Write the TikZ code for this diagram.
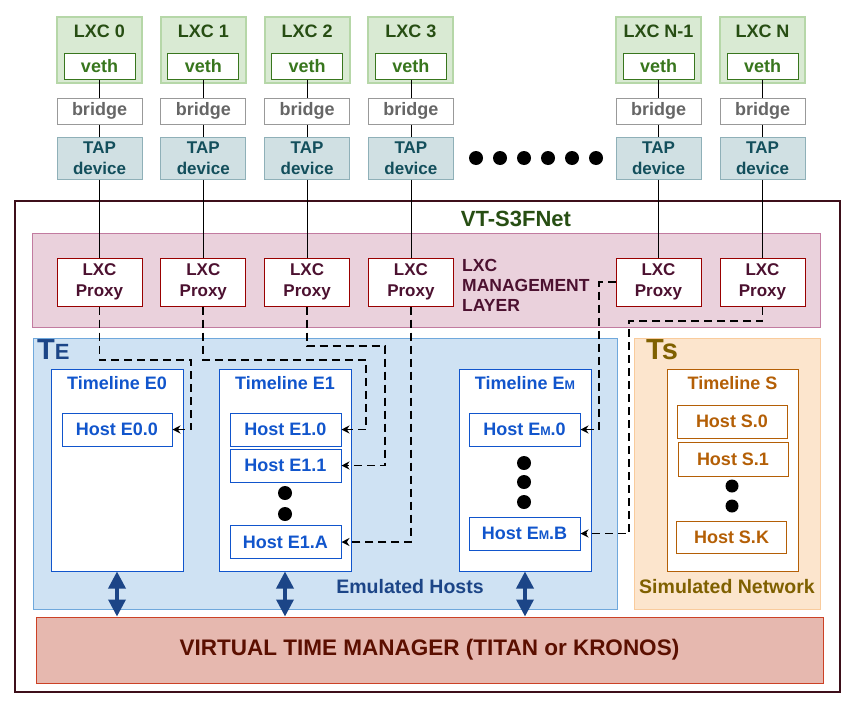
\documentclass[tikz,border=0pt]{standalone}
\usepackage{fontspec}
\setmainfont{Liberation Sans}
\usetikzlibrary{arrows.meta}
\usetikzlibrary{calc}
\definecolor{lxcfill}{HTML}{D9EAD3}
\definecolor{lxcline}{HTML}{B6D7A8}
\definecolor{lxcdark}{HTML}{274E13}
\definecolor{vethgreen}{HTML}{38761D}
\definecolor{bridgeline}{HTML}{999999}
\definecolor{bridgetext}{HTML}{666666}
\definecolor{tapfill}{HTML}{D0E0E3}
\definecolor{tapline}{HTML}{8FB0B8}
\definecolor{taptext}{HTML}{134F5C}
\definecolor{outerline}{HTML}{3D0F1A}
\definecolor{mgmtfill}{HTML}{EAD1DC}
\definecolor{mgmtline}{HTML}{C27BA0}
\definecolor{proxyline}{HTML}{990000}
\definecolor{proxytext}{HTML}{4C1130}
\definecolor{tefill}{HTML}{CFE2F3}
\definecolor{teline}{HTML}{6FA8DC}
\definecolor{hostblue}{HTML}{1155CC}
\definecolor{darkblue}{HTML}{1C4587}
\definecolor{tsfill}{HTML}{FCE5CD}
\definecolor{tsline}{HTML}{F9CB9C}
\definecolor{simbrown}{HTML}{B45F06}
\definecolor{olive}{HTML}{7F6000}
\definecolor{vtmfill}{HTML}{E6B8AF}
\definecolor{vtmline}{HTML}{CC4125}
\definecolor{vtmtext}{HTML}{5B0F00}

\tikzset{
	boxbase/.style={rectangle, inner sep=0pt, align=center,
		font=\fontsize{18}{21}\selectfont\bfseries},
	lxcbox/.style={boxbase, fill=lxcfill, draw=lxcline, line width=2pt,
		minimum width=85, minimum height=66},
	lxctext/.style={boxbase, text=lxcdark},
	vethbox/.style={boxbase, fill=white, draw=vethgreen, line width=1pt, text=vethgreen,
		minimum width=71, minimum height=26},
	bridgebox/.style={boxbase, fill=white, draw=bridgeline, line width=1pt, text=bridgetext,
		minimum width=85, minimum height=26},
	tapbox/.style={boxbase, fill=tapfill, draw=tapline, line width=1pt, text=taptext,
		minimum width=85, minimum height=42, font=\fontsize{17}{21}\selectfont\bfseries},
	proxybox/.style={boxbase, fill=white, draw=proxyline, line width=1pt, text=proxytext,
		minimum width=85, minimum height=48, font=\fontsize{17}{21}\selectfont\bfseries},
	tlbox/.style={boxbase, fill=white, draw=hostblue, line width=1pt,
		minimum width=132, minimum height=202},
	hostbox/.style={boxbase, fill=white, draw=hostblue, line width=1pt, text=hostblue,
		minimum width=111, minimum height=33},
	simbox/.style={boxbase, fill=white, draw=simbrown, line width=1pt, text=simbrown,
		minimum width=110, minimum height=33},
	link/.style={line width=0.8pt},
	dashlink/.style={line width=1.8pt, dash pattern=on 8pt off 5pt,
		-{Stealth[length=8pt,width=8pt]}},
	syncarrow/.style={darkblue, line width=3.5pt,
		{Triangle[width=17pt,length=17pt]}-{Triangle[width=17pt,length=17pt]}},
}

\begin{document}
\begin{tikzpicture}[x=1pt, y=-1pt]
	\useasboundingbox (0,0) rectangle (861,715);

	% regions
	\draw[outerline, line width=1.2pt] (15,201) rectangle (840,692);
	\draw[fill=mgmtfill, draw=mgmtline, line width=1pt] (32,233) rectangle (820,327);
	\draw[fill=tefill, draw=teline, line width=1pt] (33,338) rectangle (617,609);
	\draw[fill=tsfill, draw=tsline, line width=1pt] (634,338) rectangle (820,609);

	\node (title) [boxbase, text=lxcdark, font=\fontsize{22}{24}\selectfont\bfseries] at (516,219) {VT-S3FNet};
	\node (mgmt) [boxbase, text=proxytext, align=left, anchor=west,
		font=\fontsize{17.5}{20}\selectfont\bfseries] at (462,285) {LXC\\MANAGEMENT\\LAYER};
	\node (telab) [boxbase, text=darkblue, anchor=base west] at (37,359)
		{\fontsize{29}{29}\selectfont T\fontsize{22}{22}\selectfont E};
	\node (tslab) [boxbase, text=olive, anchor=base west] at (646,359)
		{\fontsize{29}{29}\selectfont Ts};

	% containers, bridges, taps and proxies
	\foreach \i/\x/\n in {0/99.5/0, 1/203.3/1, 2/307.1/2, 3/410.9/3, 4/658.5/N-1, 5/762.5/N} {
		\node (lxc\i) [lxcbox] at (\x,49.5) {};
		\node (lxclab\i) [lxctext] at (\x,31) {LXC \n};
		\node (veth\i) [vethbox] at (\x,66) {veth};
		\node (br\i) [bridgebox] at (\x,111) {bridge};
		\node (tap\i) [tapbox] at (\x,158) {TAP\\device};
		\node (prx\i) [proxybox] at (\x,282) {LXC\\Proxy};
		\draw[link] (veth\i) -- (br\i);
		\draw[link] (br\i) -- (tap\i);
		\draw[link] (tap\i) -- (prx\i);
	}
	\foreach \k in {0,...,5}
		\fill (476+24*\k,158) circle (7pt);

	% emulated timelines
	\node (tlE0) [tlbox] at (117,470) {};
	\node (tlE1) [tlbox] at (285,470) {};
	\node (tlEM) [tlbox] at (525,470) {};
	\node (tlE0lab) [boxbase, text=hostblue] at (117,383) {Timeline E0};
	\node (tlE1lab) [boxbase, text=hostblue] at (285,383) {Timeline E1};
	\node (tlEMlab) [boxbase, text=hostblue] at (525,383) {Timeline E{\fontsize{12.5}{12.5}\selectfont M}};

	\node (hE00) [hostbox, minimum width=110] at (117,429.5) {Host E0.0};
	\node (hE10) [hostbox] at (285.5,429.5) {Host E1.0};
	\node (hE11) [hostbox] at (285.5,465.5) {Host E1.1};
	\node (hE1A) [hostbox] at (285.5,542) {Host E1.A};
	\node (hEM0) [hostbox] at (524.5,429.5) {Host E{\fontsize{12.5}{12.5}\selectfont M}.0};
	\node (hEMB) [hostbox] at (524.5,533.5) {Host E{\fontsize{12.5}{12.5}\selectfont M}.B};
	\fill (285,493) circle (7pt) (285,514) circle (7pt);
	\fill (524,463) circle (7pt) (524,482) circle (7pt) (524,502) circle (7pt);

	% simulated timeline
	\node (tlS) [tlbox, draw=simbrown, minimum width=131] at (732.5,470) {};
	\node (tlSlab) [boxbase, text=simbrown] at (732.5,383) {Timeline S};
	\node (hS0) [simbox] at (732,421.5) {Host S.0};
	\node (hS1) [simbox, minimum height=34] at (733,459) {Host S.1};
	\node (hSK) [simbox, minimum height=32] at (731.5,537) {Host S.K};
	\fill (732,486) circle (6.5pt) (732,506) circle (6.5pt);

	\node (emu) [boxbase, text=darkblue, font=\fontsize{19.5}{22}\selectfont\bfseries] at (410,587) {Emulated Hosts};
	\node (sim) [boxbase, text=olive, font=\fontsize{19.5}{22}\selectfont\bfseries] at (727,587) {Simulated Network};

	% virtual time manager
	\node (vtm) [boxbase, fill=vtmfill, draw=vtmline, line width=1pt, text=vtmtext,
		minimum width=787, minimum height=66, font=\fontsize{22.5}{24}\selectfont\bfseries]
		at (429.5,650) {VIRTUAL TIME MANAGER (TITAN or KRONOS)};

	\draw[syncarrow] (tlE0.south) -- (tlE0.south |- vtm.north);
	\draw[syncarrow] (tlE1.south) -- (tlE1.south |- vtm.north);
	\draw[syncarrow] (tlEM.south) -- (tlEM.south |- vtm.north);

	% proxy to host links
	\draw[dashlink] (prx0.south) |- (191,360) |- (hE00.east);
	\draw[dashlink] (prx1.south) |- (366,360) |- (hE10.east);
	\draw[dashlink] (prx2.south) |- (385,346) |- (hE11.east);
	\draw[dashlink] (prx3.south) |- (hE1A.east);
	\draw[dashlink] (prx4.west) -| (599,429.5) -- (hEM0.east);
	\draw[dashlink] (prx5.south) |- (629,321) |- (hEMB.east);
\end{tikzpicture}
\end{document}
